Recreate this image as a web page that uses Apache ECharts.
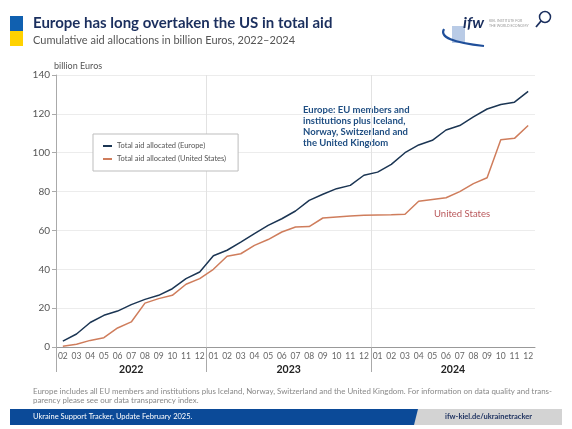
<!DOCTYPE html>
<html>
<head>
<meta charset="utf-8">
<script src="https://cdn.jsdelivr.net/npm/echarts@6/dist/echarts.min.js"></script>
<style>
    html, body { margin: 0; padding: 0; background: #fff; }
    #chart { width: 572px; height: 429px; }
</style>
</head>
<body>
<div id="chart"></div>
<script>
    // monthly tick labels, Feb 2022 .. Dec 2024
    var months = ['02','03','04','05','06','07','08','09','10','11','12',
                  '01','02','03','04','05','06','07','08','09','10','11','12',
                  '01','02','03','04','05','06','07','08','09','10','11','12'];
    var years = ['2022', '2023', '2024'];
    var yearStart = [0, 11, 23];      // index where each year begins
    var yearMid = [5.5, 17, 29];

    // cumulative aid, billion Euros
    var europe = [3, 6.7, 12.6, 16.3, 18.5, 21.8, 24.5, 26.6, 30, 35.2, 38.6,
                  47, 49.8, 54, 58.4, 62.6, 66, 70, 75.5, 78.6, 81.5, 83.2, 88.4,
                  90, 94, 100, 104, 106.4, 111.7, 114, 118.4, 122.5, 124.8, 126, 131.6];
    var us = [0.4, 1.4, 3.4, 4.8, 9.8, 12.9, 22.6, 24.9, 26.6, 32.3, 35.2,
              40, 46.7, 48, 52.3, 55.3, 59.2, 61.8, 62, 66.4, 66.9, 67.4, 67.8,
              68, 68.1, 68.3, 75, 75.9, 76.8, 80, 84.1, 87.1, 106.7, 107.4, 114];

    var navy = '#1b3553';
    var copper = '#cf7d5c';
    var font = 'Lato';

    var chart = echarts.init(document.getElementById('chart'));

    var option = {
        backgroundColor: '#fff',
        textStyle: { fontFamily: font },
        animation: false,
        grid: { left: 56, right: 37, top: 75, bottom: 82 },
        legend: {
            left: 93, top: 134,
            orient: 'vertical',
            padding: [8, 12, 8, 10],
            itemGap: 5,
            itemWidth: 9, itemHeight: 2,
            icon: 'rect',
            borderColor: '#bdbdbd', borderWidth: 1,
            backgroundColor: '#fff',
            textStyle: { fontSize: 7.5, color: '#555', fontFamily: font },
            data: ['Total aid allocated (Europe)', 'Total aid allocated (United States)']
        },
        xAxis: [{
            type: 'category',
            data: months,
            boundaryGap: true,
            axisLine: { lineStyle: { color: '#999' } },
            axisTick: { show: false },
            axisLabel: { fontSize: 8.5, color: '#666', margin: 5, interval: 0 }
        }, {
            type: 'value',
            min: 0, max: 35,
            position: 'bottom',
            axisLine: { show: false },
            axisTick: { show: true, customValues: yearStart, length: 25, lineStyle: { color: '#aaa' } },
            axisLabel: {
                customValues: yearMid, margin: 17,
                fontSize: 10.5, fontWeight: 'bold', color: '#222',
                formatter: function (v) { return years[yearMid.indexOf(v)]; }
            },
            splitLine: { show: true, lineStyle: { color: '#e2e2e2' } }
        }],
        yAxis: {
            type: 'value',
            min: 0, max: 140, interval: 20,
            name: 'billion Euros',
            nameLocation: 'end',
            nameGap: 3,
            nameTextStyle: { align: 'left', fontSize: 9, color: '#555', padding: [0, 0, 0, -2] },
            axisLine: { show: true, lineStyle: { color: '#aaa' } },
            axisTick: { show: true, length: 4, lineStyle: { color: '#aaa' } },
            axisLabel: { fontSize: 10, color: '#555', margin: 6 },
            splitLine: { lineStyle: { color: '#ececec' } }
        },
        series: [{
            name: 'Total aid allocated (Europe)',
            type: 'line',
            data: europe,
            symbol: 'none',
            lineStyle: { color: navy, width: 1.5 },
            itemStyle: { color: navy }
        }, {
            name: 'Total aid allocated (United States)',
            type: 'line',
            data: us,
            symbol: 'none',
            lineStyle: { color: copper, width: 1.5 },
            itemStyle: { color: copper }
        }],
        graphic: [
            // flag
            { type: 'rect', shape: { x: 10, y: 16, width: 13, height: 15 }, style: { fill: '#1060b0' } },
            { type: 'rect', shape: { x: 10, y: 31, width: 13, height: 15 }, style: { fill: '#ffd200' } },
            {
                type: 'text', left: 33, top: 16,
                style: { text: 'Europe has long overtaken the US in total aid', font: 'bold 15px Lato', fill: '#1b2f5e' }
            },
            {
                type: 'text', left: 33, top: 35,
                style: { text: 'Cumulative aid allocations in billion Euros, 2022\u20132024', font: '11px Lato', fill: '#555' }
            },
            // logo
            { type: 'rect', shape: { x: 452, y: 26, width: 13, height: 17 }, style: { fill: '#b9cbe6' } },
            {
                type: 'bezierCurve',
                shape: { x1: 444, y1: 29, x2: 484, y2: 46, cpx1: 437, cpy1: 41 },
                style: { stroke: '#1f4f9a', lineWidth: 2.2, fill: 'none' }
            },
            {
                type: 'text', left: 463, top: 15,
                style: { text: 'ifw', font: 'italic bold 16px Lato', fill: '#1b2f5e' }
            },
            {
                type: 'text', left: 489, top: 19,
                style: { text: 'KIEL INSTITUTE FOR\nTHE WORLD ECONOMY', font: '3.5px Lato', fill: '#999', lineHeight: 4.5 }
            },
            { type: 'circle', shape: { cx: 545, cy: 17, r: 5.5 }, style: { stroke: '#1b2f5e', lineWidth: 1.5, fill: 'none' } },
            { type: 'line', shape: { x1: 541, y1: 21, x2: 536, y2: 27 }, style: { stroke: '#1b2f5e', lineWidth: 1.8 } },
            // annotations
            {
                type: 'text', left: 303, top: 105,
                style: {
                    text: 'Europe: EU members and\ninstitutions plus Iceland,\nNorway, Switzerland and\nthe United Kingdom',
                    font: 'bold 9.5px Lato', fill: '#1f4e82', lineHeight: 10.8
                }
            },
            {
                type: 'text', left: 434, top: 209,
                style: { text: 'United States', font: '9.5px Lato', fill: '#b9575a' }
            },
            // footnote
            {
                type: 'text', left: 33, top: 387,
                style: {
                    text: 'Europe includes all EU members and institutions plus Iceland, Norway, Switzerland and the United Kingdom. For information on data quality and trans-\nparency please see our data transparency index.',
                    font: '7.9px Lato', fill: '#888', lineHeight: 8.8
                }
            },
            // footer bar
            { type: 'rect', shape: { x: 10, y: 409, width: 552, height: 16 }, style: { fill: '#d3d3d3' } },
            {
                type: 'polygon', shape: { points: [[10, 409], [418, 409], [414, 425], [10, 425]] },
                style: { fill: '#0b4a98' }
            },
            {
                type: 'text', left: 33, top: 413,
                style: { text: 'Ukraine Support Tracker, Update February 2025.', font: '7.5px Lato', fill: '#fff' }
            },
            {
                type: 'text', left: 445, top: 413,
                style: { text: 'ifw-kiel.de/ukrainetracker', font: 'bold 7.5px Lato', fill: '#1b2f5e' }
            }
        ]
    };

    chart.setOption(option);
</script>
</body>
</html>
